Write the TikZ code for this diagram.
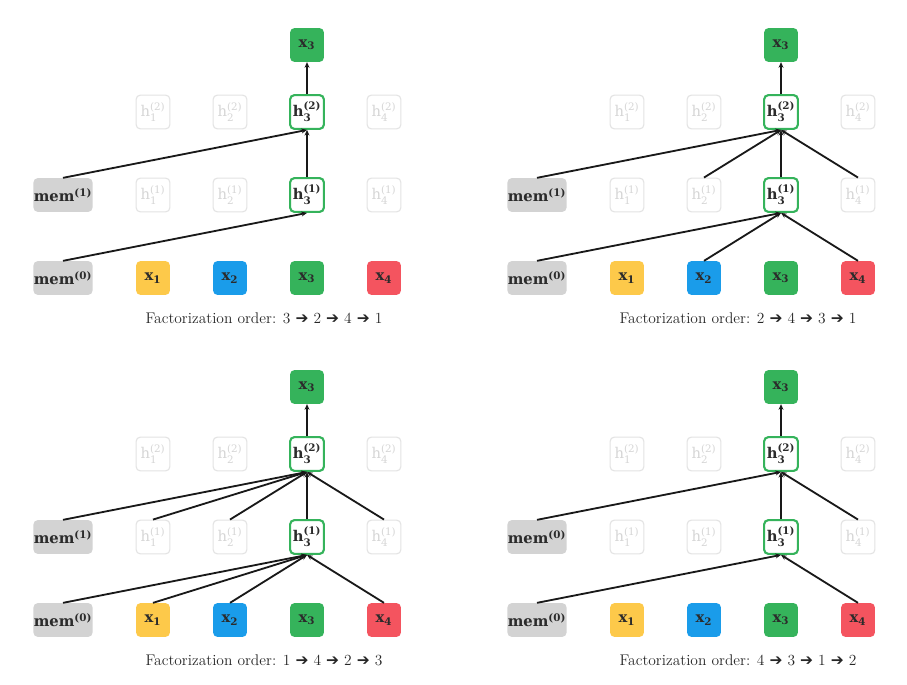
\documentclass[tikz,border=0pt]{standalone}
\usepackage{amsmath}
\usepackage{fontspec}
\newfontfamily\nodefont{DejaVu Serif}
\newfontfamily\arrowfont{DejaVu Sans}
\usetikzlibrary{arrows.meta}

\definecolor{xyellow}{HTML}{FDC94A}
\definecolor{xblue}{HTML}{1A9CEA}
\definecolor{xgreen}{HTML}{35B35B}
\definecolor{xred}{HTML}{F4545F}
\definecolor{memgray}{HTML}{D3D3D3}
\definecolor{fadegray}{HTML}{E3E3E3}
\definecolor{fadetext}{HTML}{D6D6D6}
\definecolor{textdark}{HTML}{2B2B2B}

\tikzset{
  tok/.style={rounded corners=3pt, minimum width=24pt, minimum height=24pt, inner sep=0pt,
    font=\nodefont\bfseries\fontsize{10.5}{12}\selectfont, text=textdark},
  memnode/.style={tok, fill=memgray, minimum width=42pt},
  hid/.style={tok, draw=fadegray, line width=0.8pt, fill=white, text=fadetext,
    font=\nodefont\fontsize{10.5}{12}\selectfont},
  hact/.style={tok, draw=xgreen, line width=1.5pt, fill=white},
  flow/.style={-{Stealth[length=4pt,width=3.5pt]}, line width=1.3pt, black!90},
  caption/.style={font=\fontsize{11}{13}\selectfont, text=black!85}
}

\newcommand{\hst}[2]{h$^{\text{(#2)}}_{\text{#1}}$}
\newcommand{\ar}{{\arrowfont ➔}}

% one panel: prefix, x shift, y shift, upper mem, order
\newcommand{\xlpanel}[5]{%
  \begin{scope}[shift={(#2,#3)}]
    \node[memnode] (#1m0) at (63,278) {mem$^{\text{(0)}}$};
    \node[memnode] (#1m1) at (63,195) {mem$^{\text{(#4)}}$};
    \node[tok, fill=xyellow] (#1x1) at (153,278) {x$_{\text{1}}$};
    \node[tok, fill=xblue] (#1x2) at (230,278) {x$_{\text{2}}$};
    \node[tok, fill=xgreen] (#1x3) at (307,278) {x$_{\text{3}}$};
    \node[tok, fill=xred] (#1x4) at (384,278) {x$_{\text{4}}$};
    \foreach \i/\cx in {1/153,2/230,4/384} {
      \node[hid] (#1a\i) at (\cx,195) {\hst{\i}{1}};
      \node[hid] (#1b\i) at (\cx,112) {\hst{\i}{2}};
    }
    \node[hact] (#1a3) at (307,195) {\hst{3}{1}};
    \node[hact] (#1b3) at (307,112) {\hst{3}{2}};
    \node[tok, fill=xgreen] (#1out) at (307,45) {x$_{\text{3}}$};
    \node[caption] (#1cap) at (264,318) {Factorization order: #5};
    \draw[flow] (#1a3.north) -- (#1b3.south);
    \draw[flow] (#1b3.north) -- (#1out.south);
  \end{scope}
}

\begin{document}
\begin{tikzpicture}[x=0.025cm, y=-0.025cm]
  \useasboundingbox (0,0) rectangle (907,684);

  \xlpanel{A}{0}{0}{1}{3 \ar{} 2 \ar{} 4 \ar{} 1}
  \xlpanel{B}{474}{0}{1}{2 \ar{} 4 \ar{} 3 \ar{} 1}
  \xlpanel{C}{0}{342}{1}{1 \ar{} 4 \ar{} 2 \ar{} 3}
  \xlpanel{D}{474}{342}{0}{4 \ar{} 3 \ar{} 1 \ar{} 2}

  % attention links
  \draw[flow] (Am0.north) -- (Aa3.south);
  \draw[flow] (Am1.north) -- (Ab3.south);
  \foreach \s in {m0,x2,x4} \draw[flow] (B\s.north) -- (Ba3.south);
  \foreach \s in {m1,a2,a4} \draw[flow] (B\s.north) -- (Bb3.south);
  \foreach \s in {m0,x1,x2,x4} \draw[flow] (C\s.north) -- (Ca3.south);
  \foreach \s in {m1,a1,a2,a4} \draw[flow] (C\s.north) -- (Cb3.south);
  \foreach \s in {m0,x4} \draw[flow] (D\s.north) -- (Da3.south);
  \foreach \s in {m1,a4} \draw[flow] (D\s.north) -- (Db3.south);
\end{tikzpicture}
\end{document}
